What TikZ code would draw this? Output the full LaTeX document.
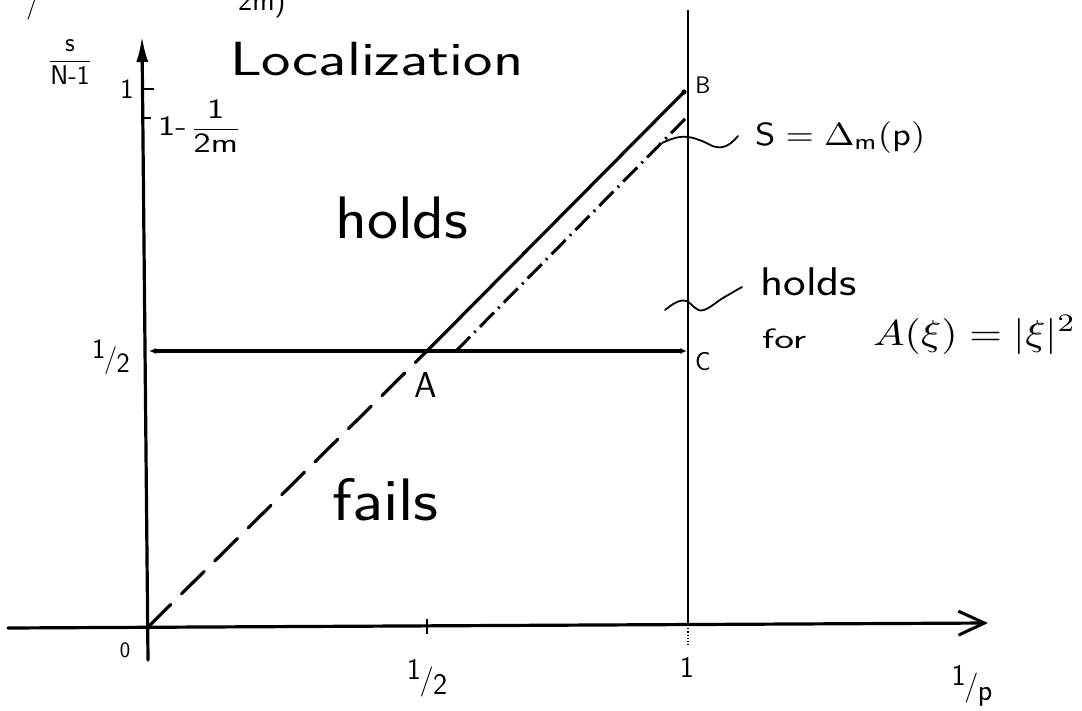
\documentclass[tikz,border=0pt]{standalone}
\usepackage{fontspec}
\usetikzlibrary{arrows.meta}
\newcommand\hfrac[2]{\raisebox{0.32em}{#1}\kern-0.04em/\kern-0.02em\raisebox{-0.18em}{#2}}
\newcommand\fs[1]{\fontsize{#1}{#1}\selectfont}
\begin{document}
\begin{tikzpicture}[x=1pt,y=-1pt,
  axisline/.style={line width=3.2pt,line cap=round},
  mainline/.style={line width=3.2pt,line cap=round},
  thinline/.style={line width=2.4pt},
  tick/.style={line width=2.6pt},
  wave/.style={line width=1.8pt,line cap=round},
  lbl/.style={inner sep=0pt,font=\sffamily}
]
\useasboundingbox (0,0) rectangle (1082,710);
\fill[white] (0,0) rectangle (1082,710);

% key points
\coordinate (O) at (148,627);
\coordinate (Xl) at (8,628);
\coordinate (Xr) at (988,623);
\coordinate (Yb) at (148,660);
\coordinate (Yt) at (142,36);
\coordinate (H) at (149,351);
\coordinate (A) at (427,351);
\coordinate (C) at (687,351);
\coordinate (B) at (684,92);
\coordinate (D0) at (456,351);
\coordinate (D1) at (687,117);
\coordinate (Vt) at (688,10);
\coordinate (Vb) at (688,625);
\coordinate (Vd) at (688,646);

% axes
\draw[axisline,-{Straight Barb[length=26pt,width=24pt,line width=3pt]}] (Xl) -- (Xr);
\draw[axisline,-{Latex[length=26pt,width=12pt]}] (Yb) -- (Yt);

% vertical line 1/p = 1
\draw[thinline] (Vt) -- (Vb);
\draw[line width=1.2pt,dotted] (Vb) -- (Vd);

% ticks
\draw[tick] (142,89) -- (154,89);
\draw[tick] (142,118) -- (151,118);
\draw[tick] (427,619) -- (427,634);

% horizontal line s = 1/2
\draw[mainline,{Latex[length=7pt,width=6pt]}-{Latex[length=7pt,width=6pt]}] (H) -- (C);

% diagonal lines
\draw[mainline,dash pattern=on 32pt off 15pt] (O) -- (A);
\draw[mainline] (A) -- (B);
\fill (B) circle (2.6pt);
\draw[line width=3pt,dash pattern=on 20pt off 6pt on 2pt off 6pt] (D0) -- (D1);

% wavy pointers
\coordinate (w1a) at (662,143);
\coordinate (w1b) at (738,136);
\draw[wave] plot[smooth,tension=0.7] coordinates {(w1a) (675,138) (688,137) (702,141) (716,147) (728,145) (w1b)};
\coordinate (w2a) at (665,310);
\coordinate (w2b) at (742,287);
\draw[wave] plot[smooth,tension=0.7] coordinates {(w2a) (677,302) (687,301) (694,307) (704,310) (723,298) (w2b)};

% cut-off fragments of the line above
\begin{scope}
\clip (0,0) rectangle (1082,710);
\node[lbl,anchor=base west] (frag1) at (26,12) {\fs{30}/};
\node[lbl,anchor=base west] (frag2) at (238,10) {\fs{30}2m)};
\end{scope}

% texts
\node[lbl,anchor=base west] (loc) at (230,75) {\fs{48}\scalebox{1.3}[1]{Localization}};
\node[lbl] (ylab) at (70,62) {\fs{27}$\displaystyle\frac{\textsf{s}}{\textsf{N-1}}$};
\node[lbl] (one) at (127,89) {\fs{28}1};
\node[lbl,anchor=west] (onem) at (158,126) {\fs{28}\scalebox{1.3}[1]{$\textsf{1-}\,\displaystyle\frac{\textsf{1}}{\textsf{2m}}$}};
\node[lbl,anchor=base west] (holds) at (335,238) {\fs{60}\scalebox{1.1}[1]{holds}};
\node[lbl,anchor=base west] (fails) at (332,520) {\fs{60}\scalebox{1.15}[1]{fails}};
\node[lbl] (half) at (111,357) {\fs{28}\hfrac{1}{2}};
\node[lbl,anchor=base] (Alab) at (426,397) {\fs{36}A};
\node[lbl,anchor=base] (Blab) at (703,93) {\fs{24}B};
\node[lbl,anchor=base] (Clab) at (703,370) {\fs{26}C};
\node[lbl] (zero) at (125,650) {\fs{22}0};
\node[lbl] (xhalf) at (427,678) {\fs{30}\hfrac{1}{2}};
\node[lbl] (xone) at (687,667) {\fs{30}1};
\node[lbl] (xp) at (972,686) {\fs{30}\hfrac{1}{p}};
\node[lbl,anchor=base west] (delta) at (755,145) {\scalebox{3.65}[3.2]{$\mathsf{S}=\Delta_{\mathsf m}(\mathsf p)$}};
\node[lbl,anchor=base west] (holds2) at (760,295) {\fs{40}\scalebox{1.2}[1]{holds}};
\node[lbl,anchor=base west] (for) at (762,348) {\fs{28}\scalebox{1.5}[1]{for}};
\node[lbl,anchor=base west] (Axi) at (873,345) {\scalebox{4.2}[3.6]{$A(\xi)=|\xi|^2$}};
\end{tikzpicture}
\end{document}
